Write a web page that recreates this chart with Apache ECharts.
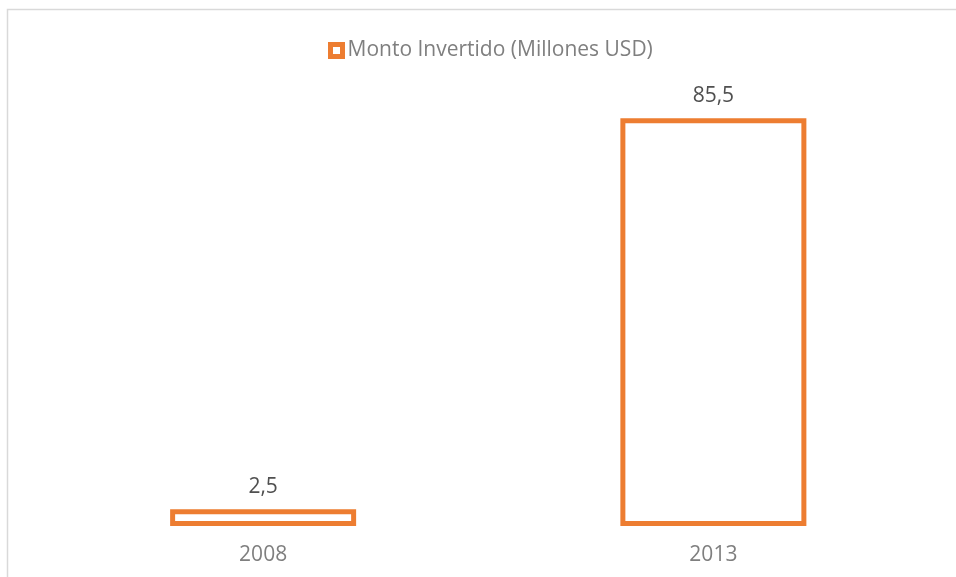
<!DOCTYPE html>
<html>
<head>
<meta charset="utf-8">
<script src="https://cdn.jsdelivr.net/npm/echarts@6/dist/echarts.min.js"></script>
<style>html,body{margin:0;padding:0;background:#fff}#c{width:956px;height:577px}</style>
</head>
<body>
<div id="c"></div>
<script>
var categories = ['2008', '2013'];
var seriesName = 'Monto Invertido (Millones USD)';
var values = [2.5, 85.5];

var chart = echarts.init(document.getElementById('c'));
var FONT = '"Open Sans", sans-serif';
var ORANGE = '#ED7D31';
var seriesData = values.map(function (v, i) { return [i, v]; });

chart.setOption({
  animation: false,
  backgroundColor: '#fff',
  graphic: [{
    type: 'rect', silent: true, z: -1,
    shape: { x: 7.5, y: 9.5, width: 1100, height: 1100 },
    style: { fill: 'none', stroke: '#d9d9d9', lineWidth: 1.5 }
  }],
  legend: {
    data: [seriesName],
    left: 323,
    top: 35,
    icon: 'rect',
    itemWidth: 12,
    itemHeight: 12,
    itemStyle: { color: '#fff', borderColor: ORANGE, borderWidth: 5 },
    textStyle: { fontFamily: FONT, fontSize: 21, color: '#7f7f7f', padding: [0, 0, 0, 0] }
  },
  grid: { left: 38, right: 17.5, top: 99.5, bottom: 53.5 },
  xAxis: {
    type: 'category',
    data: categories,
    axisLine: { show: false },
    axisTick: { show: false },
    axisLabel: { fontFamily: FONT, fontSize: 21, color: '#7f7f7f', margin: 21 }
  },
  yAxis: {
    type: 'value', min: 0, max: 90, show: false,
    splitLine: { show: false }
  },
  series: [{
    name: seriesName,
    type: 'custom',
    data: seriesData,
    encode: { x: 0, y: 1 },
    itemStyle: { color: '#fff', borderColor: ORANGE, borderWidth: 5 },
    renderItem: function (params, api) {
      var idx = api.value(0), val = api.value(1);
      var top = api.coord([idx, val]);
      var base = api.coord([idx, 0]);
      var w = api.size([1, 0])[0] * 0.402;
      return {
        type: 'group',
        children: [{
          type: 'rect',
          shape: { x: top[0] - w / 2, y: top[1], width: w, height: base[1] - top[1] },
          style: { fill: '#fff', stroke: ORANGE, lineWidth: 5 }
        }, {
          type: 'text',
          style: {
            text: String(val).replace('.', ','),
            x: top[0], y: top[1] - 25,
            align: 'center', verticalAlign: 'middle',
            font: '21px ' + FONT, fill: '#505050'
          }
        }]
      };
    }
  }]
});
</script>
</body>
</html>
